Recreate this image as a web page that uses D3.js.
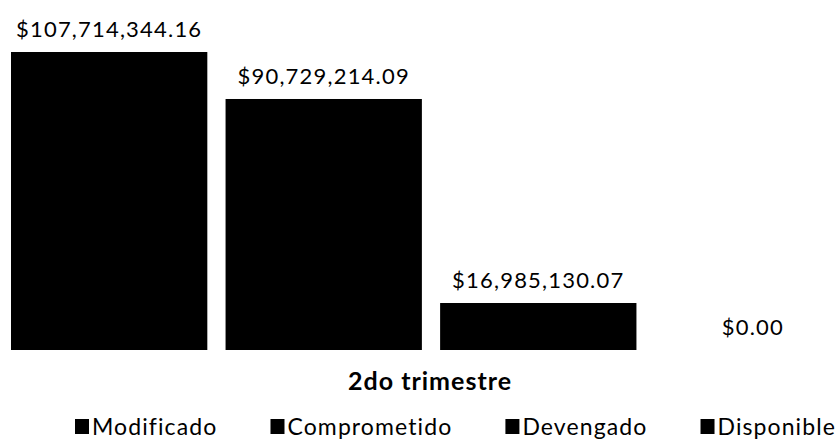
<!DOCTYPE html>
<html>
<head>
<meta charset="utf-8">
<script src="https://cdn.jsdelivr.net/npm/d3@7"></script>
<style>
  body { margin: 0; background: #fff; }
  svg text { font-family: Lato, "Open Sans", sans-serif; fill: #000; }
</style>
</head>
<body>
<div id="chart"></div>
<script>
const series = ['Modificado', 'Comprometido', 'Devengado', 'Disponible'];
const values = [107714344.16, 90729214.09, 16985130.07, 0];
const category = '2do trimestre';

const width = 838, height = 448;
const baseline = 350;

const svg = d3.select('#chart').append('svg')
	.attr('width', width)
	.attr('height', height);

const x = d3.scaleBand()
	.domain(series)
	.range([11, 851])
	.paddingInner(0.085)
	.paddingOuter(0);

const y = d3.scaleLinear()
	.domain([0, 107714344.16])
	.range([baseline, 52]);

const fmt = d3.format('$,.2f');

// bars
svg.append('g').selectAll('rect')
	.data(series)
	.join('rect')
	.attr('x', d => x(d))
	.attr('y', (d, i) => y(values[i]))
	.attr('width', x.bandwidth())
	.attr('height', (d, i) => baseline - y(values[i]))
	.attr('fill', '#000');

// value labels
svg.append('g').selectAll('text')
	.data(series)
	.join('text')
	.attr('x', d => x(d) + x.bandwidth() / 2)
	.attr('y', (d, i) => y(values[i]) - 15)
	.attr('text-anchor', 'middle')
	.style('font-size', '22px')
	.style('letter-spacing', '1.2px')
	.text((d, i) => fmt(values[i]));

// category label
svg.append('text')
	.attr('x', 430)
	.attr('y', 390)
	.attr('text-anchor', 'middle')
	.style('font-size', '25px')
	.style('font-weight', 'bold')
	.style('letter-spacing', '1px')
	.text(category);

// legend, spread between fixed left and right edges
const legLeft = 75, legRight = 836, sq = 14;
const legend = svg.append('g').attr('transform', 'translate(0, 435)');
const items = series.map(s => {
	const g = legend.append('g');
	g.append('rect')
		.attr('x', 0).attr('y', -16)
		.attr('width', sq).attr('height', 15)
		.attr('fill', '#000');
	const t = g.append('text')
		.attr('x', sq + 3).attr('y', 0)
		.style('font-size', '23px')
		.style('letter-spacing', '1.1px')
		.text(s);
	return { g, w: sq + 3 + t.node().getComputedTextLength() };
});
const gap = (legRight - legLeft - d3.sum(items, d => d.w)) / (items.length - 1);
let lx = legLeft;
items.forEach(it => {
	it.g.attr('transform', `translate(${lx},0)`);
	lx += it.w + gap;
});
</script>
</body>
</html>
